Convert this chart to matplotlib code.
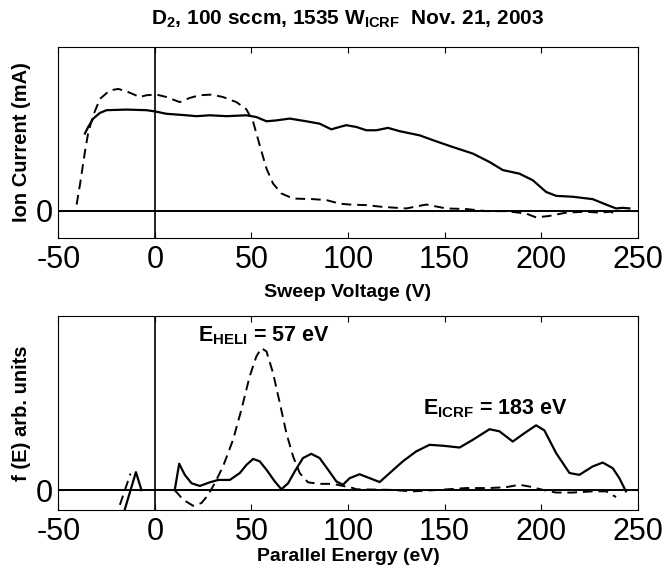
import matplotlib
matplotlib.use('Agg')
import matplotlib.pyplot as plt

# top panel: ion current vs sweep voltage (arb. y units, 0 = zero current)
v_solid = [-36.2, -34.5, -31.9, -28.4, -25, -14.7, -4.3, 0, 6, 16.4, 21.6, 28.4, 37.1, 47.4,
           52.6, 57.8, 63, 69.8, 78.4, 85.3, 91.4, 94, 99.1, 104.3, 109.5, 114.7, 120.7,
           126.7, 137.1, 145.7, 154.3, 164.7, 173.3, 180.2, 188.8, 195.7, 202.6, 207.8, 216.4,
           226.7, 233.6, 238.8, 242.2, 245.7]
i_solid = [2.58, 2.8, 3.08, 3.27, 3.36, 3.38, 3.36, 3.32, 3.24, 3.19, 3.16, 3.19, 3.16, 3.19,
           3.13, 2.99, 3.02, 3.08, 2.99, 2.91, 2.72, 2.77, 2.86, 2.8, 2.69, 2.69, 2.77, 2.66,
           2.52, 2.32, 2.13, 1.91, 1.63, 1.36, 1.24, 1.02, 0.63, 0.5, 0.47, 0.39, 0.21, 0.08,
           0.1, 0.08]
v_dash = [-40.5, -38.8, -36.2, -34.5, -31.9, -28.4, -23.3, -19, -14.7, -7.8, -4.3, 0.9, 6,
          12.9, 18.1, 23.3, 29.3, 35.3, 42.2, 47.4, 50.9, 54.3, 57.8, 61.2, 65.5, 71.6, 81.9,
          88.8, 95.7, 100.9, 109.5, 118.1, 130.2, 140.5, 150.9, 161.2, 171.6, 181.9, 192.2,
          197.4, 204.3, 212.9, 223.3, 230.2, 236.2, 239.7]
i_dash = [0.21, 0.86, 1.97, 2.61, 3.19, 3.74, 4.02, 4.07, 3.99, 3.8, 3.86, 3.88, 3.8, 3.63,
          3.77, 3.86, 3.88, 3.8, 3.63, 3.39, 2.97, 2.19, 1.41, 0.91, 0.58, 0.41, 0.39, 0.36,
          0.24, 0.21, 0.19, 0.13, 0.08, 0.21, 0.08, 0.06, -0.01, -0.01, -0.09, -0.22, -0.17,
          -0.06, -0.03, -0.06, -0.03, -0.17]

# bottom panel: f(E) vs parallel energy
e_solid_a = [-15.5, -9.8, -6.9]
f_solid_a = [-0.63, 0.6, 0.0]
e_solid = [10.3, 12.6, 15.5, 19, 23.3, 28.4, 32.8, 38.8, 44, 47.4, 50.9, 54.3, 57.8, 62.1,
           65.5, 69, 72.4, 76.7, 81, 85.3, 89.7, 94, 97.4, 100.9, 106, 111.2, 116.4, 121.6,
           128.4, 135.3, 142.2, 149.1, 157.8, 164.7, 173.3, 178.4, 185.3, 191.4, 197.4, 201.7,
           207.8, 214.7, 219.8, 226.7, 231.9, 237.1, 240.5, 243.9]
f_solid = [0.0, 0.88, 0.51, 0.23, 0.14, 0.26, 0.34, 0.34, 0.57, 0.84, 1.04, 0.96, 0.68, 0.29,
           0.03, 0.23, 0.62, 1.07, 1.21, 1.07, 0.68, 0.29, 0.18, 0.4, 0.53, 0.4, 0.27, 0.57,
           0.96, 1.29, 1.51, 1.48, 1.42, 1.68, 2.03, 1.96, 1.62, 1.9, 2.16, 1.99, 1.23, 0.57,
           0.51, 0.79, 0.92, 0.73, 0.4, -0.04]
e_dash_a = [-18.1, -12.6]
f_dash_a = [-0.49, 0.55]
e_dash = [10.3, 14.7, 19.8, 24.1, 27.6, 31, 35.3, 40.5, 44.8, 49.1, 52.6, 55.2, 57.8, 61.2,
          64.7, 68.1, 71.6, 75, 79.3, 85.3, 92.2, 97.4, 102.6, 104.3, 121.6, 133.6, 147.4,
          161.2, 173.3, 181.9, 188.8, 194, 200.9, 207.8, 216.4, 226.7, 233.6, 238.8]
f_dash = [0.0, -0.32, -0.52, -0.43, -0.16, 0.23, 0.79, 1.68, 2.68, 3.79, 4.46, 4.73, 4.62,
          3.9, 2.9, 1.9, 1.12, 0.57, 0.26, 0.21, 0.21, 0.14, 0.07, 0.03, 0.01, -0.04, 0.01,
          0.07, 0.07, 0.1, 0.18, 0.12, 0.01, -0.08, -0.08, -0.04, -0.04, -0.23]

xticks = [-50, 0, 50, 100, 150, 200, 250]

plt.rcParams['font.family'] = ['Liberation Sans', 'DejaVu Sans']
plt.rcParams['mathtext.fontset'] = 'custom'
plt.rcParams['mathtext.rm'] = 'Liberation Sans:bold'
plt.rcParams['mathtext.bf'] = 'Liberation Sans:bold'
plt.rcParams['mathtext.default'] = 'bf'

fig = plt.figure(figsize=(6.66, 5.73), dpi=100)
ax1 = fig.add_axes([0.0875, 0.585, 0.870, 0.333])
ax2 = fig.add_axes([0.0875, 0.110, 0.870, 0.339])

def style(ax, ylim):
    ax.set_xlim(-50, 250)
    ax.set_ylim(*ylim)
    ax.axhline(0, color='k', lw=1.4)
    ax.axvline(0, color='k', lw=1.2)
    ax.set_xticks(xticks)
    ax.set_xticklabels([str(t) for t in xticks], fontsize=22)
    ax.set_yticks([0])
    ax.set_yticklabels(['0'], fontsize=22)
    ax.tick_params(axis='x', direction='in', top=True, length=4, width=0.8, pad=5)
    ax.tick_params(axis='y', direction='in', right=True, length=4, width=0.8, pad=4)
    for s in ax.spines.values():
        s.set_linewidth(0.8)

dash = (0, (5, 3))

ax1.plot(v_solid, i_solid, color='k', lw=1.6)
ax1.plot(v_dash, i_dash, color='k', lw=1.4, ls=dash)
style(ax1, (-0.9, 5.47))
ax1.set_xlabel('Sweep Voltage (V)', fontsize=14, fontweight='bold', labelpad=7)
ax1.set_ylabel('Ion Current (mA)', fontsize=14.5, fontweight='bold', labelpad=3)
ax1.set_title(r'D$_2$, 100 sccm, 1535 W$_{\mathrm{ICRF}}$  Nov. 21, 2003',
              fontsize=15, fontweight='bold', pad=16)

ax2.plot(e_solid_a, f_solid_a, color='k', lw=1.6)
ax2.plot(e_solid, f_solid, color='k', lw=1.6)
ax2.plot(e_dash_a, f_dash_a, color='k', lw=1.4, ls=dash)
ax2.plot(e_dash, f_dash, color='k', lw=1.4, ls=dash)
style(ax2, (-0.66, 5.81))
ax2.set_xlabel('Parallel Energy (eV)', fontsize=14, fontweight='bold', labelpad=1)
ax2.set_ylabel('f (E) arb. units', fontsize=14.5, fontweight='bold', labelpad=3)
ax2.text(22.2, 4.95, r'E$_{\mathrm{HELI}}$ = 57 eV', fontsize=15.5, fontweight='bold',
         ha='left', va='baseline')
ax2.text(138.6, 2.51, r'E$_{\mathrm{ICRF}}$ = 183 eV', fontsize=15.5, fontweight='bold',
         ha='left', va='baseline')

fig.savefig('out.png', dpi=100)
